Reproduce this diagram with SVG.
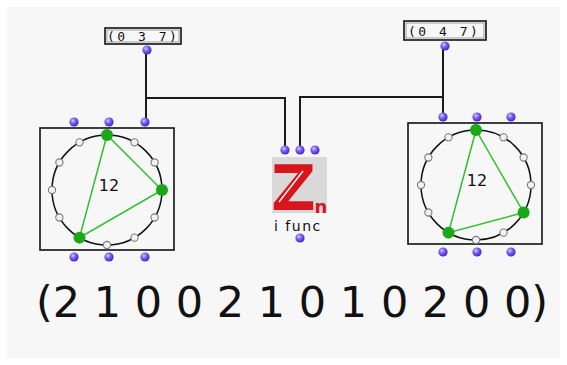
<svg xmlns="http://www.w3.org/2000/svg" width="567" height="365" viewBox="0 0 567 365">
<style>
.box{fill:none;stroke:#111;stroke-width:1.6}
.conn{fill:none;stroke:#1a1a1a;stroke-width:2}
.ring{fill:none;stroke:#111;stroke-width:1.5}
.tri{fill:none;stroke:#2cc02c;stroke-width:1.5}
.dot{fill:#18a818}
.mono{font-family:"DejaVu Sans Mono",monospace;font-size:13px;letter-spacing:2.5px;fill:#111}
.num{font-family:"DejaVu Sans",sans-serif;font-size:16px;fill:#111;text-anchor:middle}
</style>
<defs>
<radialGradient id="bg" cx="0.38" cy="0.35" r="0.65">
<stop offset="0" stop-color="#d4ccff"/>
<stop offset="0.45" stop-color="#7a5ff0"/>
<stop offset="1" stop-color="#4726c4"/>
</radialGradient>
<circle id="ball" r="4.6" fill="url(#bg)"/>
<circle id="pc" r="3.6" fill="#f2f2f2" stroke="#7a7a7a" stroke-width="1.1"/>
</defs>
<rect x="0" y="0" width="567" height="365" fill="#ffffff"/>
<rect x="7" y="7" width="553" height="351" fill="#f7f7f7"/>

<g id="connectors">
<path class="conn" d="M146,50 V122"/>
<path class="conn" d="M146,98 H285 V150"/>
<path class="conn" d="M443,46 V117"/>
<path class="conn" d="M443,97 H300 V150"/>
</g>

<g id="list-037">
<rect class="box" x="105" y="28" width="76" height="16" fill="#fbfbfb"/>
<rect x="107" y="30" width="72" height="12" fill="none" stroke="#666" stroke-width="0.6"/>
<text class="mono" x="107" y="41">(0 3 7)</text>
<use href="#ball" x="147" y="50"/>
</g>

<g id="list-047">
<rect class="box" x="404" y="21" width="82" height="19" fill="#fbfbfb"/>
<rect x="406" y="23" width="78" height="15" fill="none" stroke="#666" stroke-width="0.6"/>
<text class="mono" x="408" y="35.5">(0 4 7)</text>
<use href="#ball" x="445" y="46"/>
</g>

<g id="circle-left">
<rect class="box" x="40" y="128" width="134" height="122" fill="#f7f7f7"/>
<circle class="ring" cx="107" cy="190" r="55"/>
<use href="#pc" x="134.5" y="142.37"/>
<use href="#pc" x="154.63" y="162.5"/>
<use href="#pc" x="154.63" y="217.5"/>
<use href="#pc" x="134.5" y="237.63"/>
<use href="#pc" x="107" y="245"/>
<use href="#pc" x="59.37" y="217.5"/>
<use href="#pc" x="52" y="190"/>
<use href="#pc" x="59.37" y="162.5"/>
<use href="#pc" x="79.5" y="142.37"/>
<polygon class="tri" points="107,135 162,190 79.5,237.63"/>
<circle class="dot" cx="107" cy="135" r="6"/>
<circle class="dot" cx="162" cy="190" r="6"/>
<circle class="dot" cx="79.5" cy="237.63" r="6"/>
<text class="num" x="109" y="191">12</text>
<use href="#ball" x="74" y="122"/>
<use href="#ball" x="109" y="122"/>
<use href="#ball" x="145" y="122"/>
<use href="#ball" x="74" y="257"/>
<use href="#ball" x="109" y="257"/>
<use href="#ball" x="145" y="257"/>
</g>

<g id="circle-right">
<rect class="box" x="408" y="123" width="134" height="121" fill="#f7f7f7"/>
<circle class="ring" cx="476" cy="185" r="55"/>
<use href="#pc" x="503.5" y="137.37"/>
<use href="#pc" x="523.63" y="157.5"/>
<use href="#pc" x="531" y="185"/>
<use href="#pc" x="503.5" y="232.63"/>
<use href="#pc" x="476" y="240"/>
<use href="#pc" x="428.37" y="212.5"/>
<use href="#pc" x="421" y="185"/>
<use href="#pc" x="428.37" y="157.5"/>
<use href="#pc" x="448.5" y="137.37"/>
<polygon class="tri" points="476,130 523.63,212.5 448.5,232.63"/>
<circle class="dot" cx="476" cy="130" r="6"/>
<circle class="dot" cx="523.63" cy="212.5" r="6"/>
<circle class="dot" cx="448.5" cy="232.63" r="6"/>
<text class="num" x="477" y="186">12</text>
<use href="#ball" x="443" y="117"/>
<use href="#ball" x="477" y="117"/>
<use href="#ball" x="511" y="117"/>
<use href="#ball" x="443" y="252"/>
<use href="#ball" x="477" y="252"/>
<use href="#ball" x="511" y="252"/>
</g>

<g id="ifunc">
<use href="#ball" x="285" y="150"/>
<use href="#ball" x="300" y="150"/>
<use href="#ball" x="315" y="150"/>
<rect x="272" y="157" width="55" height="56" fill="#d9d9d9"/>
<text x="271" y="210" font-family="DejaVu Sans, sans-serif" font-weight="bold" font-size="62" fill="#d8141c">Z<tspan x="314.5" y="213" font-size="18">n</tspan></text>
<line x1="303" y1="171" x2="279" y2="202" stroke="#ffffff" stroke-width="1.4"/>
<text x="274" y="231" font-family="DejaVu Sans, sans-serif" font-size="14" letter-spacing="1.5" fill="#111">i func</text>
<use href="#ball" x="300" y="238"/>
</g>

<g id="result">
<text x="292" y="317" font-family="DejaVu Sans, sans-serif" font-size="43" text-anchor="middle" fill="#111">(2 1 0 0 2 1 0 1 0 2 0 0)</text>
</g>
</svg>
